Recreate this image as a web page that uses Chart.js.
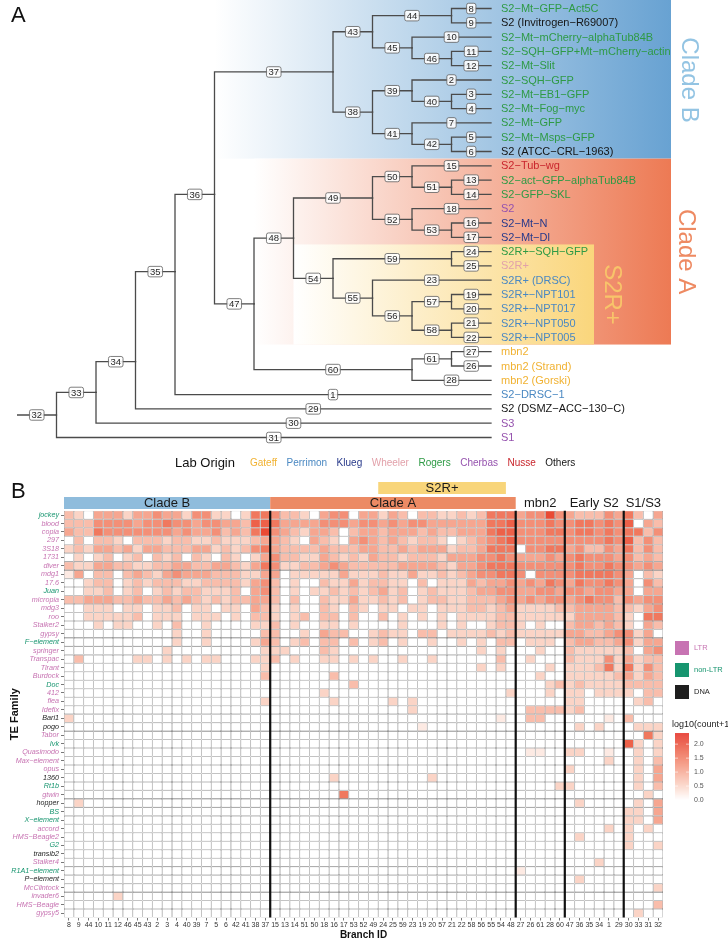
<!DOCTYPE html>
<html><head><meta charset="utf-8">
<script src="https://cdn.jsdelivr.net/npm/chart.js@4.4.1/dist/chart.umd.min.js"></script>
<style>
html,body{margin:0;padding:0;background:#fff;}
#wrap{position:relative;width:728px;height:940px;overflow:hidden;background:#fff;}
#tree{position:absolute;left:0;top:0;}
#heat{position:absolute;left:0;top:475px;}
</style></head><body>
<div id="wrap"><canvas id="tree" width="728" height="475"></canvas><canvas id="heat" width="728" height="465"></canvas></div>
<script>
const FONT = '"Liberation Sans", Arial, Helvetica, sans-serif';

// ---------------- Panel A data ----------------
const rootNode = 32;
const treeEdges = [
 [32,33],[32,31],[33,34],[33,30],[34,35],[34,29],[35,36],[35,1],[36,37],[36,47],
 [37,43],[37,38],[43,44],[43,45],[44,8],[44,9],[45,10],[45,46],[46,11],[46,12],
 [38,39],[38,41],[39,2],[39,40],[40,3],[40,4],[41,7],[41,42],[42,5],[42,6],
 [47,48],[47,60],[48,49],[48,54],[49,50],[49,52],[50,15],[50,51],[51,13],[51,14],
 [52,18],[52,53],[53,16],[53,17],[54,59],[54,55],[59,24],[59,25],[55,23],[55,56],
 [56,57],[56,58],[57,19],[57,20],[58,21],[58,22],[60,61],[60,28],[61,27],[61,26]
];
const tipOrder = [8,9,10,11,12,2,3,4,7,5,6,15,13,14,18,16,17,24,25,23,19,20,21,22,27,26,28,1,29,30,31];
// vertical positions (in tip rows) for nodes not drawn at their children's midpoint
const nodeRowOverride = {36:13.0, 35:18.4, 34:24.7};
const tipNames = ["S2−Mt−GFP−Act5C","S2 (Invitrogen−R69007)","S2−Mt−mCherry−alphaTub84B","S2−SQH−GFP+Mt−mCherry−actin","S2−Mt−Slit",
 "S2−SQH−GFP","S2−Mt−EB1−GFP","S2−Mt−Fog−myc","S2−Mt−GFP","S2−Mt−Msps−GFP","S2 (ATCC−CRL−1963)",
 "S2−Tub−wg","S2−act−GFP−alphaTub84B","S2−GFP−SKL","S2","S2−Mt−N","S2−Mt−Dl",
 "S2R+−SQH−GFP","S2R+","S2R+ (DRSC)","S2R+−NPT101","S2R+−NPT017","S2R+−NPT050","S2R+−NPT005",
 "mbn2","mbn2 (Strand)","mbn2 (Gorski)","S2−DRSC−1","S2 (DSMZ−ACC−130−C)","S3","S1"];
const tipLabs = ["Rogers","Others","Rogers","Rogers","Rogers","Rogers","Rogers","Rogers","Rogers","Rogers","Others",
 "Nusse","Rogers","Rogers","Cherbas","Klueg","Klueg","Rogers","Wheeler","Perrimon","Perrimon","Perrimon","Perrimon","Perrimon",
 "Gateff","Gateff","Gateff","Perrimon","Others","Cherbas","Cherbas"];
const labOrder = ["Gateff","Perrimon","Klueg","Wheeler","Rogers","Cherbas","Nusse","Others"];
const labColors = {Gateff:"#F1B232",Perrimon:"#4A88C2",Klueg:"#27398A",Wheeler:"#E2A1AA",Rogers:"#2E9A45",Cherbas:"#9552AE",Nusse:"#C9262D",Others:"#151515"};
const cladeDefs = [
 {name:"Clade B", node:37, from:36, color:[104,162,210], text:"#93C4E3", extent:180, textDx:198},
 {name:"Clade A", node:48, from:47, color:[237,122,84], text:"#EE8A62", extent:180, textDx:195},
 {name:"S2R+",   node:54, from:48, color:[250,214,124], text:"#F8C46A", extent:103, textDx:121}
];

// ---------------- Panel B data ----------------
const branchIds = ["8","9","44","10","11","12","46","45","43","2","3","4","40","39","7","5","6","42","41","38","37",
 "15","13","14","51","50","18","16","17","53","52","49","24","25","59","23","19","20","57","21","22","58","56","55","54","48",
 "27","26","61","28","60","47","36","35","34","1","29","30","33","31","32"];
const groupNames = ["Clade B","Clade A","mbn2","Early S2","S1/S3"];
const groupSizes = [21,25,5,6,4];
const teFamilies = ["jockey","blood","copia","297","3S18","1731","diver","mdg1","17.6","Juan","micropia","mdg3","roo","Stalker2",
 "gypsy","F−element","springer","Transpac","Tirant","Burdock","Doc","412","flea","Idefix","Bari1","pogo","Tabor","Ivk",
 "Quasimodo","Max−element","opus","1360","Rt1b","gtwin","hopper","BS","X−element","accord","HMS−Beagle2","G2","transib2",
 "Stalker4","R1A1−element","P−element","McClintock","invader6","HMS−Beagle","gypsy5"];
const teTypes = ["non-LTR","LTR","LTR","LTR","LTR","LTR","LTR","LTR","LTR","non-LTR","LTR","LTR","LTR","LTR",
 "LTR","non-LTR","LTR","LTR","LTR","LTR","non-LTR","LTR","LTR","LTR","DNA","DNA","LTR","non-LTR",
 "LTR","LTR","LTR","DNA","non-LTR","LTR","DNA","non-LTR","non-LTR","LTR","LTR","non-LTR","DNA",
 "LTR","non-LTR","DNA","LTR","LTR","LTR","LTR"];
const typeOrder = ["LTR","non-LTR","DNA"];
const typeColors = {"LTR":"#C773B2","non-LTR":"#17956F","DNA":"#1E1E1E"};
// log10(count+1) per cell, in quarters (digit d -> d*0.25); groups: Clade B | Clade A | mbn2 | Early S2 | S1/S3
const teLevels = [
"320444244544255220266 5332045504424303322323666 45585 433354 6304",
"333555545565545544377 6444455545545455444444667 55565 566565 7043",
"433655555554544534368 5432443034434443433444677 55566 566565 6635",
"030332033323322322234 4320432045434323320234567 55555 555565 7353",
"232443424433344232356 4333343334433434442334666 05566 453354 6353",
"020230230323032032024 5332243232433233324445565 44454 565554 5343",
"322443322334433443246 5223345433333444432445666 55555 565565 5454",
"140330343245444333224 4022222422232242232345566 50555 566665 4032",
"002330232333223333245 3020032242332203022243445 45465 465565 4053",
"002230230232332223045 3020223232342302322234455 44554 554554 4044",
"334443343343432323344 3030032242232302332233345 45455 456553 5455",
"002220220223022022043 2020032032022022022233234 22223 344443 3245",
"002222230222022202033 2023033030030202020222233 22222 244443 2066",
"000202200203002000022 3020022020000200020200233 20200 344343 2043",
"000000000002002000003 3002043300232203302222323 22222 443345 5240",
"000000000002002000024 3023033030230200200202033 02220 344334 5244",
"000000000020000000002 2200032000000000000002020 00200 322222 3045",
"030000022020202200022 3020022020200200200000030 02000 322252 4233",
"000000000000000000002 0000000000000000000002020 00020 222362 6253",
"000000000000000000003 0000003000000000000000000 00200 222223 4243",
"000000000000000000000 0000000030000000000000000 00023 232222 3333",
"000000000000000000000 0000020000000000000000002 00020 220222 2033",
"000000000000000000002 0000002000002020000000000 00000 220000 0230",
"000000000000000000000 0000000000000020000000000 03333 230000 0000",
"200000000000000000000 0000000000000000000000010 03300 000010 3000",
"000000000000000000000 0000000000000001000000000 00000 020200 0222",
"000000000000000000000 0000000000000000000000000 00000 000000 0062",
"000000000000000000000 0000000000000000000000000 00000 000000 7202",
"000000000000000000000 0000000000000000000000000 01100 220010 0202",
"000000000000000000000 0000000000000000000000000 00000 000020 0203",
"000000000000000000000 0000000000000000000000000 00000 200000 0204",
"000000000000000000000 0000002000000000200000000 00000 000000 0204",
"000000000000000000000 0000000000000000000000000 00002 200000 0203",
"000000000000000000000 0000000600000000000000000 00000 000000 0020",
"020000000000000000000 0000000000000000000000000 00000 020000 0204",
"000000000000000000000 0000000000000000000000000 00000 000000 2204",
"000000000000000000000 0000000000000000000000000 00000 000000 2204",
"000000000000000000000 0000000000000000000000000 00000 000020 2020",
"000000000000000000000 0000000000000000000000000 00000 020000 2000",
"000000000000000000000 0000000000000000000000000 00000 000000 2002",
"000000000000000000000 0000000000000000000000000 00000 000000 0000",
"000000000000000000000 0000000000000000000000000 00000 000200 0000",
"000000000000000000000 0000000000000000000000000 10000 000000 0000",
"000000000000000000000 0000000000000000000000000 00000 020000 0000",
"000000000000000000000 0000000000000000000000000 00000 000000 0002",
"000002000000000000000 0000000000000000000000000 00000 000000 0000",
"000000000000000000000 0000000000000000000000000 00000 000000 0003",
"000000000000000000000 0000000000000000000000000 00000 000000 0200"
];
const colorMax = 2.4;
const colorBreaks = [0.0,0.5,1.0,1.5,2.0];
// colour ramp stops (value -> rgb)
const rampStops = [[0,[255,255,255]],[0.5,[251,212,198]],[1.0,[246,166,144]],[1.5,[240,120,94]],[2.0,[233,74,52]],[2.4,[227,36,26]]];

function heatColor(v){v=Math.max(0,Math.min(colorMax,v));
 for(let i=1;i<rampStops.length;i++){const [v1,c1]=rampStops[i],[v0,c0]=rampStops[i-1];
  if(v<=v1){const t=(v-v0)/(v1-v0);return `rgb(${[0,1,2].map(k=>Math.round(c0[k]+(c1[k]-c0[k])*t)).join(',')})`;}}
 return `rgb(${rampStops[rampStops.length-1][1].join(',')})`;}

// ---------------- tree layout (cladogram, tips aligned) ----------------
const children={};
treeEdges.forEach(([p,c])=>{(children[p]=children[p]||[]).push(c);});
const heightOf={};
function calcH(n){return heightOf[n]=children[n]?1+Math.max(...children[n].map(calcH)):0;}
calcH(rootNode);
const maxH=heightOf[rootNode];
const nodeX={},nodeY={};
Object.keys(heightOf).forEach(n=>{nodeX[n]=maxH-heightOf[n];});
tipOrder.forEach((t,i)=>{nodeY[t]=i;});
function calcY(n){if(nodeY[n]!==undefined)return nodeY[n];const ys=children[n].map(calcY);
 return nodeY[n]=(nodeRowOverride[n]!==undefined)?nodeRowOverride[n]:(Math.min(...ys)+Math.max(...ys))/2;}
calcY(rootNode);
function tipsUnder(n){return children[n]?[].concat(...children[n].map(tipsUnder)):[tipOrder.indexOf(n)];}

const branchSets=treeEdges.map(([p,c])=>({
 data:[{x:nodeX[p],y:nodeY[p]},{x:nodeX[p],y:nodeY[c]},{x:nodeX[c],y:nodeY[c]}],
 showLine:true,pointRadius:0,borderColor:"#4b4b4b",borderWidth:1.3,tension:0,clip:false,borderCapStyle:'square'
}));
branchSets.push({data:[{x:-1,y:nodeY[rootNode]},{x:0,y:nodeY[rootNode]}],showLine:true,pointRadius:0,borderColor:"#4b4b4b",borderWidth:1.3,clip:false});

function roundRect(ctx,x,y,w,h,r){ctx.beginPath();ctx.moveTo(x+r,y);ctx.lineTo(x+w-r,y);ctx.quadraticCurveTo(x+w,y,x+w,y+r);
 ctx.lineTo(x+w,y+h-r);ctx.quadraticCurveTo(x+w,y+h,x+w-r,y+h);ctx.lineTo(x+r,y+h);ctx.quadraticCurveTo(x,y+h,x,y+h-r);
 ctx.lineTo(x,y+r);ctx.quadraticCurveTo(x,y,x+r,y);ctx.closePath();}
function nodeBox(ctx,cx,cy,txt){ctx.font=`9.5px ${FONT}`;const w=ctx.measureText(txt).width+4,h=10.5;
 roundRect(ctx,cx-w/2,cy-h/2,w,h,2);ctx.fillStyle="rgba(255,255,255,0.88)";ctx.fill();ctx.lineWidth=0.8;ctx.strokeStyle="#606060";ctx.stroke();
 ctx.fillStyle="#2a2a2a";ctx.textAlign="center";ctx.textBaseline="middle";ctx.fillText(txt,cx,cy+0.5);}

const treePlugin={id:'treeDeco',
 beforeDatasetsDraw(chart){const {ctx,scales:{x,y}}=chart;const tipPx=x.getPixelForValue(maxH);
  cladeDefs.forEach(c=>{const tips=tipsUnder(c.node);const t0=Math.min(...tips),t1=Math.max(...tips);
   const yTop=t0===0?0:y.getPixelForValue(t0-0.5),yBot=y.getPixelForValue(t1+0.5);
   const x0=x.getPixelForValue(nodeX[c.from]),x1=tipPx+c.extent;
   const g=ctx.createLinearGradient(x0,0,x1,0);g.addColorStop(0,"rgb(255,255,255)");g.addColorStop(1,`rgb(${c.color.join(',')})`);
   ctx.fillStyle=g;ctx.fillRect(x0,yTop,x1-x0,yBot-yTop);});
 },
 afterDatasetsDraw(chart){const {ctx,scales:{x,y}}=chart;const tipPx=x.getPixelForValue(maxH);ctx.save();
  cladeDefs.forEach(c=>{const tips=tipsUnder(c.node);const mid=(Math.min(...tips)+Math.max(...tips))/2;
   ctx.save();ctx.translate(tipPx+c.textDx,y.getPixelForValue(mid));ctx.rotate(Math.PI/2);
   ctx.font=`24px ${FONT}`;ctx.fillStyle=c.text;ctx.textAlign="center";ctx.textBaseline="middle";ctx.fillText(c.name,0,0);ctx.restore();});
  tipOrder.forEach((t,i)=>{ctx.font=`11px ${FONT}`;ctx.fillStyle=labColors[tipLabs[i]];ctx.textAlign="left";ctx.textBaseline="middle";
   ctx.fillText(tipNames[i],tipPx+10,y.getPixelForValue(i)+0.5);});
  treeEdges.forEach(([p,c])=>{nodeBox(ctx,x.getPixelForValue((nodeX[p]+nodeX[c])/2),y.getPixelForValue(nodeY[c]),String(c));});
  nodeBox(ctx,x.getPixelForValue(-0.5),y.getPixelForValue(nodeY[rootNode]),String(rootNode));
  ctx.font=`22px ${FONT}`;ctx.fillStyle="#111";ctx.textAlign="left";ctx.textBaseline="alphabetic";ctx.fillText("A",11,22);
  ctx.textBaseline="middle";ctx.font=`13px ${FONT}`;ctx.fillStyle="#111";ctx.fillText("Lab Origin",175,463);
  let lx=250;ctx.font=`10px ${FONT}`;
  labOrder.forEach(l=>{ctx.fillStyle=labColors[l];ctx.fillText(l,lx,463.5);lx+=ctx.measureText(l).width+9.5;});
  ctx.restore();}
};

new Chart(document.getElementById('tree'),{
 type:'scatter',data:{datasets:branchSets},
 options:{responsive:false,animation:false,devicePixelRatio:1,events:[],
  layout:{padding:{left:17,right:237,top:8.5,bottom:37.5}},
  plugins:{legend:{display:false},tooltip:{enabled:false}},
  scales:{x:{type:'linear',min:-1,max:maxH,display:false},y:{type:'linear',min:0,max:tipOrder.length-1,reverse:true,display:false}}},
 plugins:[treePlugin]});

// ---------------- heatmap ----------------
const levelRows=teLevels.map(s=>s.replace(/ /g,'').split('').map(d=>Number(d)*0.25));
const heatSets=teFamilies.map((name,r)=>({label:name,data:branchIds.map(()=>1),
 backgroundColor:branchIds.map((_,c)=>heatColor(levelRows[r][c]||0)),
 borderColor:"#777777",borderWidth:0.55,borderSkipped:false,inflateAmount:0,barPercentage:1,categoryPercentage:1,stack:'s'}));

const groupStarts=[];groupSizes.reduce((a,s)=>{groupStarts.push(a);return a+s;},0);
const heatPlugin={id:'heatDeco',
 afterDatasetsDraw(chart){const {ctx,chartArea:ca,scales:{x}}=chart;ctx.save();
  const colL=i=>x.getPixelForValue(i)-(x.getPixelForValue(1)-x.getPixelForValue(0))/2;
  const colR=i=>colL(i+1);
  ctx.strokeStyle="#111";ctx.lineWidth=2.2;
  groupStarts.slice(1).forEach(s=>{const px=colL(s);ctx.beginPath();ctx.moveTo(px,ca.top);ctx.lineTo(px,ca.bottom);ctx.stroke();});
  const bars=[{from:0,to:20,color:"#8FBCDC",label:"Clade B",y0:22,y1:34},{from:21,to:45,color:"#EC8A64",label:"Clade A",y0:22,y1:34},
   {from:32,to:44,color:"#F8D57A",label:"S2R+",y0:7,y1:19}];
  bars.forEach(b=>{ctx.fillStyle=b.color;ctx.fillRect(colL(b.from),b.y0,colR(b.to)-colL(b.from),b.y1-b.y0);
   ctx.fillStyle="#1a1a1a";ctx.font=`13px ${FONT}`;ctx.textAlign="center";ctx.textBaseline="middle";
   ctx.fillText(b.label,(colL(b.from)+colR(b.to))/2,(b.y0+b.y1)/2+0.5);});
  [2,3,4].forEach(g=>{const a=groupStarts[g],e=a+groupSizes[g]-1;ctx.fillStyle="#1a1a1a";ctx.font=`13px ${FONT}`;ctx.textAlign="center";
   ctx.fillText(groupNames[g],(colL(a)+colR(e))/2,28.5);});
  ctx.font=`22px ${FONT}`;ctx.fillStyle="#111";ctx.textAlign="left";ctx.textBaseline="alphabetic";ctx.fillText("B",11,23);
  typeOrder.forEach((t,i)=>{const yy=166+i*22;ctx.fillStyle=typeColors[t];ctx.fillRect(675,yy,14,14);
   ctx.font=`7.5px ${FONT}`;ctx.textAlign="left";ctx.textBaseline="middle";ctx.fillText(t,694,yy+7);});
  ctx.fillStyle="#222";ctx.font=`9px ${FONT}`;ctx.textBaseline="middle";ctx.fillText("log10(count+1)",672,250);
  const cbTop=258,cbBot=325,cbX=675,cbW=14;
  for(let py=cbTop;py<cbBot;py+=0.5){const v=(cbBot-py)/(cbBot-cbTop)*colorMax;ctx.fillStyle=heatColor(v);ctx.fillRect(cbX,py,cbW,0.6);}
  colorBreaks.forEach(b=>{const py=cbBot-b/colorMax*(cbBot-cbTop);ctx.strokeStyle="#fff";ctx.lineWidth=0.6;
   ctx.beginPath();ctx.moveTo(cbX,py);ctx.lineTo(cbX+3,py);ctx.moveTo(cbX+cbW-3,py);ctx.lineTo(cbX+cbW,py);ctx.stroke();
   ctx.fillStyle="#555";ctx.font=`7px ${FONT}`;ctx.textAlign="left";ctx.fillText(b.toFixed(1),694,py);});
  ctx.restore();}
};

new Chart(document.getElementById('heat'),{
 type:'bar',data:{labels:branchIds,datasets:heatSets},
 options:{responsive:false,animation:false,devicePixelRatio:1,events:[],
  layout:{padding:{left:0,right:65,top:35.8,bottom:0}},
  plugins:{legend:{display:false},tooltip:{enabled:false}},
  scales:{
   x:{stacked:true,offset:true,grid:{display:true,offset:false,drawOnChartArea:false,drawTicks:true,tickLength:3,color:"#555",lineWidth:0.8},
      border:{display:false},
      ticks:{autoSkip:false,maxRotation:0,minRotation:0,padding:0,color:"#333",font:{size:7,family:FONT}},
      title:{display:true,text:"Branch ID",color:"#111",font:{size:10,weight:'bold',family:FONT,lineHeight:1},padding:{top:0,bottom:0}},
      afterFit:s=>{s.height=22.5;}},
   y:{stacked:true,min:0,max:teFamilies.length,reverse:true,
      grid:{display:true,drawOnChartArea:false,drawTicks:true,tickLength:3,color:"#555",lineWidth:0.8},
      border:{display:false},
      afterBuildTicks:s=>{s.ticks=teFamilies.map((_,i)=>({value:i+0.5}));},
      ticks:{autoSkip:false,padding:2,callback:v=>teFamilies[Math.floor(v)],
        color:c=>typeColors[teTypes[Math.floor(c.tick.value)]],font:{size:7.2,style:'italic',family:FONT}},
      title:{display:true,text:"TE Family",color:"#111",font:{size:11,weight:'bold',family:FONT},padding:{top:8,bottom:0}},
      afterFit:s=>{s.width=64;}}
  }},
 plugins:[heatPlugin]});
</script>
</body></html>
